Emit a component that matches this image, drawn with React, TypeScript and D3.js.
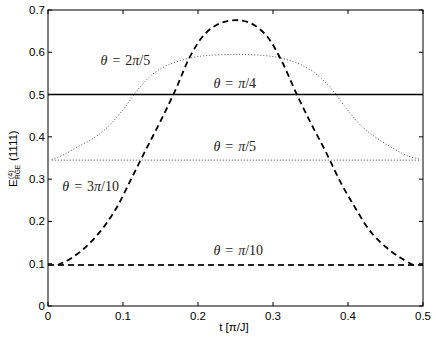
import React from "react";
import * as d3 from "d3";

// ---- data ----
const xTicks = [0, 0.1, 0.2, 0.3, 0.4, 0.5];
const yTicks = [0, 0.1, 0.2, 0.3, 0.4, 0.5, 0.6, 0.7];

// theta = 3pi/10 (dashed, oscillating)
const t3pi10 = [0.013, 0.03, 0.05, 0.07, 0.09, 0.11, 0.13, 0.15, 0.17, 0.19, 0.21, 0.23, 0.25,
  0.27, 0.29, 0.31, 0.33, 0.35, 0.37, 0.39, 0.41, 0.43, 0.45, 0.47, 0.487];
const e3pi10 = [0.097, 0.112, 0.139, 0.177, 0.228, 0.297, 0.368, 0.437, 0.511, 0.592, 0.645, 0.669, 0.676,
  0.669, 0.642, 0.585, 0.507, 0.434, 0.366, 0.293, 0.231, 0.176, 0.14, 0.114, 0.097];

// theta = 2pi/5 (dotted, oscillating)
const t2pi5 = [0.005, 0.02, 0.04, 0.06, 0.08, 0.1, 0.12, 0.14, 0.16, 0.18, 0.2, 0.25,
  0.3, 0.32, 0.34, 0.36, 0.38, 0.4, 0.42, 0.44, 0.46, 0.48, 0.497];
const e2pi5 = [0.347, 0.357, 0.377, 0.396, 0.424, 0.464, 0.512, 0.549, 0.57, 0.582, 0.59, 0.595,
  0.59, 0.582, 0.568, 0.545, 0.509, 0.462, 0.422, 0.395, 0.373, 0.355, 0.347];

// constant curves
const tPi4 = [0, 0.5];
const ePi4 = [0.5, 0.5];
const tPi5 = [0.005, 0.495];
const ePi5 = [0.345, 0.345];
const tPi10 = [0.0, 0.5];
const ePi10 = [0.097, 0.097];

// annotation labels: numerator prefix, denominator, anchor t, anchor value
const labelNum = ["2", "", "", "3", ""];
const labelDen = ["5", "4", "5", "10", "10"];
const labelT = [0.07, 0.2205, 0.2205, 0.019, 0.2205];
const labelE = [0.57, 0.515, 0.367, 0.271, 0.121];

const W = 436;
const H = 339;
const x = d3.scaleLinear().domain([0, 0.5]).range([48, 423]);
const y = d3.scaleLinear().domain([0, 0.7]).range([306, 10]);

function path(ts: number[], es: number[], curve: d3.CurveFactory = d3.curveCatmullRom) {
  const pts: [number, number][] = ts.map((t, i) => [t, es[i]]);
  return d3
    .line<[number, number]>()
    .x((d) => x(d[0]))
    .y((d) => y(d[1]))
    .curve(curve)(pts) as string;
}

const sans = "'Liberation Sans', Arial, sans-serif";
const serif = "'Liberation Serif', 'DejaVu Serif', 'Times New Roman', serif";

export default function App() {
  const [x0, x1] = x.range();
  const [y0, y1] = y.range();
  return (
    <svg width={W} height={H} style={{ position: "absolute", left: 0, top: 0, background: "#fff" }}>
      <rect x={0} y={0} width={W} height={H} fill="#fff" />
      {/* curves */}
      <path d={path(tPi4, ePi4, d3.curveLinear)} fill="none" stroke="#000" strokeWidth={1.5} />
      <path d={path(tPi5, ePi5, d3.curveLinear)} fill="none" stroke="#444" strokeWidth={1} strokeDasharray="1,2" />
      <path d={path(t2pi5, e2pi5)} fill="none" stroke="#555" strokeWidth={1} strokeDasharray="1,2" />
      <path d={path(tPi10, ePi10, d3.curveLinear)} fill="none" stroke="#222" strokeWidth={1.8} strokeDasharray="6,4" />
      <path d={path(t3pi10, e3pi10)} fill="none" stroke="#000" strokeWidth={1.8} strokeDasharray="6,4" />

      {/* axes box */}
      <rect x={x0} y={y1} width={x1 - x0} height={y0 - y1} fill="none" stroke="#000" strokeWidth={1} />
      {xTicks.map((t) => (
        <g key={"xt" + t}>
          <line x1={x(t)} x2={x(t)} y1={y0} y2={y0 - 4} stroke="#000" />
          <line x1={x(t)} x2={x(t)} y1={y1} y2={y1 + 4} stroke="#000" />
          <text x={x(t)} y={320} textAnchor="middle" fontFamily={sans} fontSize={11.5} fill="#000">
            {t === 0 ? "0" : d3.format(".1f")(t)}
          </text>
        </g>
      ))}
      {yTicks.map((v) => (
        <g key={"yt" + v}>
          <line x1={x0} x2={x0 + 4} y1={y(v)} y2={y(v)} stroke="#000" />
          <line x1={x1} x2={x1 - 4} y1={y(v)} y2={y(v)} stroke="#000" />
          <text x={45} y={y(v) + 4} textAnchor="end" fontFamily={sans} fontSize={11.5} fill="#000">
            {v === 0 ? "0" : d3.format(".1f")(v)}
          </text>
        </g>
      ))}

      {/* x label */}
      <text x={234} y={331} textAnchor="middle" fontFamily={sans} fontSize={11.5} fill="#000">
        t [π/J]
      </text>

      {/* y label */}
      <g transform="translate(17,187) rotate(-90)">
        <text fontFamily={sans} fontSize={11.5} fill="#000">
          <tspan x={0} y={0}>E</tspan>
          <tspan x={8} y={-4} fontSize={7}>(4)</tspan>
          <tspan x={8} y={3} fontSize={6.5}>RGE</tspan>
          <tspan x={26} y={0}>(1111)</tspan>
        </text>
      </g>

      {/* theta annotations */}
      {labelDen.map((den, i) => (
        <text key={"lab" + i} x={x(labelT[i])} y={y(labelE[i])} fontFamily={serif} fontSize={14} fill="#222">
          <tspan fontStyle="italic">θ</tspan>
          <tspan dx={5}>=</tspan>
          {labelNum[i] ? <tspan dx={5}>{labelNum[i]}</tspan> : null}
          <tspan fontStyle="italic" dx={labelNum[i] ? 0 : 5}>π</tspan>
          <tspan>/{den}</tspan>
        </text>
      ))}
    </svg>
  );
}
